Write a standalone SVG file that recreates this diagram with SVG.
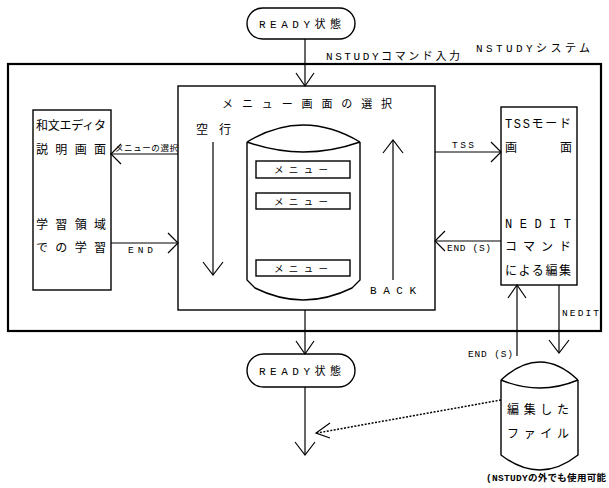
<svg xmlns="http://www.w3.org/2000/svg" width="609" height="488" viewBox="0 0 609 488">
<style>
.s{fill:none;stroke:#000;stroke-width:1.4}
.b{fill:none;stroke:#000;stroke-width:2.2}
.a{fill:none;stroke:#000;stroke-width:1.2}
.d{fill:none;stroke:#000;stroke-width:1.5;stroke-dasharray:2 1.5}
text{font-family:"Liberation Mono","Noto Sans CJK JP",monospace;fill:#000;font-size:11px}
.m{font-size:12px}
.sm{font-size:8.5px}
.t{font-size:9.5px}
.f{font-size:9.5px;font-weight:bold}
</style>
<rect width="609" height="488" fill="#fff"/>

<g id="nstudy-system">
  <rect class="b" x="8" y="64" width="593" height="267"/>
  <text x="476" y="52" textLength="114" lengthAdjust="spacing">NSTUDYシステム</text>
</g>

<g id="ready-top">
  <rect class="s" x="247" y="8" width="108" height="31" rx="15.5"/>
  <text x="259" y="28" textLength="82" lengthAdjust="spacing">READY状態</text>
</g>

<g id="menu">
  <rect class="s" x="178" y="86" width="257" height="224"/>
  <text x="222" y="108" textLength="170" lengthAdjust="spacing">メ ニ ュ ー 画 面 の 選 択</text>
  <text class="m" x="196" y="134" textLength="35" lengthAdjust="spacing">空 行</text>
  <text x="370" y="294" textLength="46" lengthAdjust="spacing">BACK</text>
  <path class="s" d="M247,142 Q303,108 360,142 M247,142 Q303,162 360,142 M247,142 L247,280 L255,288 Q303,312 352,288 L360,280 L360,142"/>
  <rect class="s" x="256" y="161" width="94" height="17"/>
  <rect class="s" x="256" y="193" width="94" height="16"/>
  <rect class="s" x="256" y="260" width="94" height="16"/>
  <text class="t" x="274" y="173" textLength="54" lengthAdjust="spacing">メ ニ ュ ー</text>
  <text class="t" x="274" y="205" textLength="54" lengthAdjust="spacing">メ ニ ュ ー</text>
  <text class="t" x="274" y="272" textLength="54" lengthAdjust="spacing">メ ニ ュ ー</text>
</g>

<g id="wabun-editor">
  <rect class="s" x="33" y="110" width="78" height="180"/>
  <text class="m" x="36" y="130" textLength="70" lengthAdjust="spacing">和文エディタ</text>
  <text class="m" x="36" y="154" textLength="70" lengthAdjust="spacing">説 明 画 面</text>
  <text class="m" x="36" y="229" textLength="70" lengthAdjust="spacing">学 習 領 域</text>
  <text class="m" x="36" y="252" textLength="70" lengthAdjust="spacing">で の 学 習</text>
</g>

<g id="tss-mode">
  <rect class="s" x="501" y="107" width="76" height="178"/>
  <text class="m" x="505" y="128" textLength="66" lengthAdjust="spacing">TSSモード</text>
  <text class="m" x="505" y="152">画</text>
  <text class="m" x="560" y="152">面</text>
  <text class="m" x="505" y="228" textLength="66" lengthAdjust="spacing">NEDIT</text>
  <text class="m" x="505" y="251" textLength="66" lengthAdjust="spacing">コ マ ン ド</text>
  <text class="m" x="505" y="275" textLength="66" lengthAdjust="spacing">による編集</text>
</g>

<g id="ready-bottom">
  <rect class="s" x="247" y="354" width="108" height="33" rx="16.5"/>
  <text x="259" y="375" textLength="82" lengthAdjust="spacing">READY状態</text>
</g>

<g id="edited-file">
  <path class="s" d="M501,380 Q540,344 578,380 M501,380 Q540,396 578,380 M501,380 L501,455 Q540,485 578,455 L578,380"/>
  <text class="m" x="507" y="414" textLength="62" lengthAdjust="spacing">編 集 し た</text>
  <text class="m" x="507" y="438" textLength="62" lengthAdjust="spacing">フ ァ イ ル</text>
</g>

<g id="connectors">
  <line class="a" x1="305" y1="39" x2="305" y2="86"/>
  <polyline class="a" points="296,73 305,86 314,73"/>
  <text x="326" y="60" textLength="134" lengthAdjust="spacing">NSTUDYコマンド入力</text>

  <line class="a" x1="178" y1="154" x2="110" y2="154"/>
  <polyline class="a" points="121,144 111,154 121,164"/>
  <text class="sm" x="115" y="151" textLength="63" lengthAdjust="spacing">メニューの選択</text>

  <line class="a" x1="111" y1="243" x2="178" y2="243"/>
  <polyline class="a" points="168,233 178,243 168,253"/>
  <text class="t" x="128" y="253" textLength="25" lengthAdjust="spacing">END</text>

  <line class="a" x1="435" y1="152" x2="501" y2="152"/>
  <polyline class="a" points="491,142 501,152 491,162"/>
  <text class="t" x="452" y="148" textLength="22" lengthAdjust="spacing">TSS</text>

  <line class="a" x1="501" y1="241" x2="435" y2="241"/>
  <polyline class="a" points="445,231 435,241 445,251"/>
  <text class="t" x="447" y="251" textLength="44" lengthAdjust="spacing">END (S)</text>

  <line class="a" x1="213" y1="142" x2="213" y2="275"/>
  <polyline class="a" points="203,262 213,275 223,262"/>

  <line class="a" x1="393" y1="140" x2="393" y2="280"/>
  <polyline class="a" points="383,153 393,140 403,153"/>

  <line class="a" x1="305" y1="310" x2="305" y2="354"/>
  <polyline class="a" points="296,341 305,354 314,341"/>

  <line class="a" x1="305" y1="387" x2="305" y2="455"/>
  <polyline class="a" points="295,442 305,455 315,442"/>

  <line class="a" x1="559" y1="285" x2="559" y2="353"/>
  <polyline class="a" points="549,340 559,353 569,340"/>
  <text class="t" x="562" y="316" textLength="37" lengthAdjust="spacing">NEDIT</text>

  <line class="a" x1="517" y1="356" x2="517" y2="285"/>
  <polyline class="a" points="508,298 517,285 526,298"/>
  <text class="t" x="468" y="357" textLength="45" lengthAdjust="spacing">END (S)</text>

  <line class="d" x1="501" y1="400" x2="317" y2="433"/>
  <polyline class="a" points="330,423 316,433 330,438"/>
</g>

<text class="f" x="486" y="481" textLength="120" lengthAdjust="spacing">(NSTUDYの外でも使用可能</text>
</svg>
